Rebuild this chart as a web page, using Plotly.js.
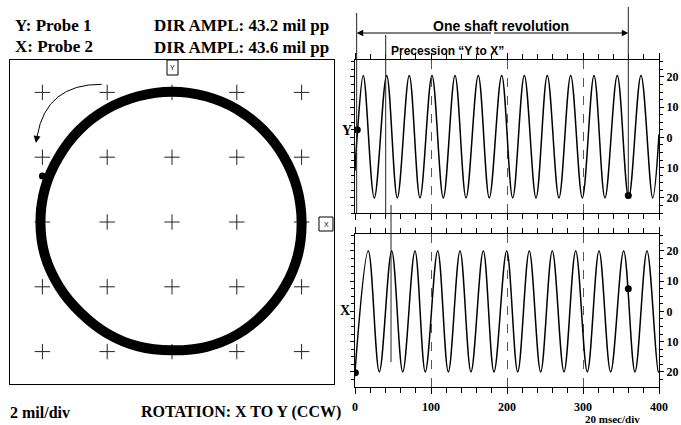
<!DOCTYPE html>
<html>
<head>
<meta charset="utf-8">
<script src="https://cdn.plot.ly/plotly-3.0.1.min.js"></script>
<style>html,body{margin:0;padding:0;background:#fff;}#chart{width:681px;height:425px;}</style>
</head>
<body>
<div id="chart"></div>
<script>
// ---------- DATA ----------
// Orbit (X probe horizontal, Y probe vertical), read around the ring
var orbitX = [20.0, 19.3, 17.3, 14.1, 10.0, 5.2, 0.0, -5.2, -10.1, -14.3, -17.5, -19.6, -20.3, -19.6, -17.4, -14.1, -10.0, -5.2, 0.0, 5.2, 10.0, 14.2, 17.4, 19.4, 20.0];
var orbitY = [0.0, 5.2, 10.0, 14.2, 17.4, 19.4, 20.1, 19.4, 17.4, 14.2, 10.0, 5.2, 0.0, -5.2, -10.0, -14.0, -17.2, -19.2, -19.8, -19.3, -17.4, -14.1, -10.0, -5.2, 0.0];
var orbitDotX = [-20.4, -20.0];
var orbitDotY = [2.0, 7.1];
var gridVals = [-20, -10, 0, 10, 20];

// Y probe time waveform (msec, mil)
var yTime = [0, 3, 10.9, 25.4, 41.7, 55.7, 71.4, 85.5, 101.3, 116.2, 131.6, 146.1, 162.2, 176.7, 193.0, 207.5, 222.8, 238.2, 253.0, 268.4, 283.8, 299.1, 314.5, 328.9, 345.1, 360.1, 376.3, 391.7, 400];
var yVals = [-11, 1, 20.5, -20, 20.5, -20, 20.5, -20, 20.5, -20, 20.5, -20, 20.5, -20, 20.5, -20, 20.5, -20, 20.5, -20, 20.5, -20, 20.5, -20, 20.5, -20, 20.5, -20, 1];
var yDotT = [3, 359.6];
var yDotV = [2.5, -19.2];

// X probe time waveform (msec, mil)
var xTime = [0, 17.5, 32.0, 48.3, 62.8, 78.9, 92.5, 108.8, 122.8, 138.2, 152.6, 168.8, 182.9, 199.6, 214.1, 229.3, 244.3, 259.6, 275.0, 290.4, 305.7, 321.1, 336.4, 353.5, 368.4, 384.2, 399.1, 400];
var xVals = [-20, 20, -20, 20, -20, 20, -20, 20, -20, 20, -20, 20, -20, 20, -20, 20, -20, 20, -20, 20, -20, 20, -20, 20, -20, 20, -20, -19.8];
var xDotT = [0.5, 359.6];
var xDotV = [-20.3, 7.5];

var ampTickVals = [-20, -10, 0, 10, 20];
var ampTickText = ['20', '10', '0', '10', '20'];
var timeTickVals = [0, 100, 200, 300, 400];
var timeTickText = ['0', '100', '200', '300', '400'];

// markers of revolution / precession (msec)
var revStart = 2.2, revEnd = 359.6, precY = 40.4, precX = 47.4;

// ---------- BUILD ----------
var W = 681, H = 425;
function fx(p){ return p / W; }
function fy(p){ return 1 - p / H; }

var crossX = [], crossY = [];
gridVals.forEach(function(a){ gridVals.forEach(function(b){ crossX.push(a); crossY.push(b); }); });

var serifB = {family: 'Liberation Serif, Times New Roman, serif', color: '#000', weight: 'bold'};
var sansB = {family: 'Liberation Sans, Arial, sans-serif', color: '#000', weight: 'bold'};
function f(base, size){ var o = {}; for (var k in base) o[k] = base[k]; o.size = size; return o; }

var traces = [
  {x: crossX, y: crossY, xaxis: 'x', yaxis: 'y', mode: 'markers', hoverinfo: 'skip',
   marker: {symbol: 'cross-thin', size: 11, color: '#222', line: {width: 1, color: '#222'}}},
  {x: orbitX, y: orbitY, xaxis: 'x', yaxis: 'y', mode: 'lines',
   line: {color: '#000', width: 10, shape: 'spline', smoothing: 1}},
  {x: orbitDotX, y: orbitDotY, xaxis: 'x', yaxis: 'y', mode: 'markers',
   marker: {color: '#000', size: 7}},
  {x: yTime, y: yVals, xaxis: 'x2', yaxis: 'y2', mode: 'lines',
   line: {color: '#000', width: 1.5, shape: 'spline', smoothing: 1}},
  {x: yDotT, y: yDotV, xaxis: 'x2', yaxis: 'y2', mode: 'markers', marker: {color: '#000', size: 7}},
  {x: xTime, y: xVals, xaxis: 'x3', yaxis: 'y3', mode: 'lines',
   line: {color: '#000', width: 1.5, shape: 'spline', smoothing: 1}},
  {x: xDotT, y: xDotV, xaxis: 'x3', yaxis: 'y3', mode: 'markers', marker: {color: '#000', size: 7}}
];

var orbitAxis = {range: [-25, 25], showgrid: false, zeroline: false, showticklabels: false, ticks: '',
  showline: true, mirror: true, linecolor: '#000', linewidth: 1, fixedrange: true};
function timeAxis(domainY, showLabels){
  return {domain: [fx(355), fx(659)], range: [0, 400], anchor: domainY, zeroline: false,
    showgrid: true, dtick: 100, tick0: 0, griddash: 'dash', gridcolor: '#555', gridwidth: 1,
    tickvals: timeTickVals, ticktext: timeTickText, showticklabels: showLabels,
    tickfont: f(serifB, 12), ticks: 'outside', ticklen: 6, tickcolor: '#000', ticklabelstandoff: 3,
    minor: {dtick: 20, tick0: 0, ticks: 'outside', ticklen: 5, tickcolor: '#000', showgrid: false},
    showline: true, mirror: 'allticks', linecolor: '#000', linewidth: 1};
}
function ampAxis(anchor, lo, hi, range){
  return {domain: [fy(lo), fy(hi)], range: range, anchor: anchor, side: 'right', zeroline: false,
    showgrid: false, tickvals: ampTickVals, ticktext: ampTickText, tickfont: f(serifB, 12),
    ticks: 'outside', ticklen: 4, tickcolor: '#000',
    minor: {dtick: 2.5, ticks: 'outside', ticklen: 3, tickcolor: '#000', showgrid: false},
    showline: true, mirror: 'allticks', linecolor: '#000', linewidth: 1};
}

var xo = JSON.parse(JSON.stringify(orbitAxis)); xo.domain = [fx(10), fx(334)]; xo.anchor = 'y';
var yo = JSON.parse(JSON.stringify(orbitAxis)); yo.domain = [fy(384), fy(60)]; yo.anchor = 'x';

var shapes = [
  // small probe boxes on orbit frame
  {type: 'rect', xref: 'paper', yref: 'paper', x0: fx(167), x1: fx(178), y0: fy(75), y1: fy(60), line: {color: '#000', width: 1}},
  {type: 'rect', xref: 'paper', yref: 'paper', x0: fx(319), x1: fx(333), y0: fy(231), y1: fy(217), line: {color: '#000', width: 1}},
  // rotation arrow arc
  {type: 'path', xref: 'x', yref: 'y', path: 'M -10.85,21.25 Q -19.4,21.3 -20.8,13.3', line: {color: '#000', width: 1}},
  // revolution and precession markers
  {type: 'line', xref: 'x2', yref: 'paper', x0: revStart, x1: revStart, y0: fy(13), y1: fy(213), line: {color: '#222', width: 1}},
  {type: 'line', xref: 'x2', yref: 'paper', x0: revEnd, x1: revEnd, y0: fy(7), y1: fy(196), line: {color: '#222', width: 1}},
  {type: 'line', xref: 'x2', yref: 'paper', x0: precY, x1: precY, y0: fy(35), y1: fy(217), line: {color: '#222', width: 1}},
  {type: 'line', xref: 'x3', yref: 'paper', x0: precX, x1: precX, y0: fy(205), y1: fy(362), line: {color: '#222', width: 1}}
];

var mid = (revStart + revEnd) / 2;
var annotations = [
  {xref: 'paper', yref: 'paper', x: fx(12.7), y: fy(25.7), xanchor: 'left', yanchor: 'middle', text: 'Y: Probe 1', showarrow: false, font: f(serifB, 17)},
  {xref: 'paper', yref: 'paper', x: fx(12.7), y: fy(46.5), xanchor: 'left', yanchor: 'middle', text: 'X: Probe 2', showarrow: false, font: f(serifB, 17)},
  {xref: 'paper', yref: 'paper', x: fx(152), y: fy(26), xanchor: 'left', yanchor: 'middle', text: 'DIR AMPL: 43.2 mil pp', showarrow: false, font: f(serifB, 17)},
  {xref: 'paper', yref: 'paper', x: fx(152), y: fy(47), xanchor: 'left', yanchor: 'middle', text: 'DIR AMPL: 43.6 mil pp', showarrow: false, font: f(serifB, 17)},
  {xref: 'paper', yref: 'paper', x: fx(8), y: fy(412), xanchor: 'left', yanchor: 'middle', text: '2 mil/div', showarrow: false, font: f(serifB, 16)},
  {xref: 'paper', yref: 'paper', x: fx(343), y: fy(412), xanchor: 'right', yanchor: 'middle', text: 'ROTATION: X TO Y (CCW)', showarrow: false, font: f(serifB, 16)},
  {xref: 'paper', yref: 'paper', x: fx(612), y: fy(419), xanchor: 'center', yanchor: 'middle', text: '20 msec/div', showarrow: false, font: f(serifB, 11)},
  {xref: 'paper', yref: 'paper', x: fx(347), y: fy(130), xanchor: 'center', yanchor: 'middle', text: 'Y', showarrow: false, font: f(serifB, 14)},
  {xref: 'paper', yref: 'paper', x: fx(345), y: fy(310), xanchor: 'center', yanchor: 'middle', text: 'X', showarrow: false, font: f(serifB, 14)},
  {xref: 'paper', yref: 'paper', x: fx(172.5), y: fy(67.5), xanchor: 'center', yanchor: 'middle', text: 'Y', showarrow: false, font: {family: 'Liberation Sans, Arial', size: 7, color: '#000'}},
  {xref: 'paper', yref: 'paper', x: fx(326), y: fy(224), xanchor: 'center', yanchor: 'middle', text: 'X', showarrow: false, font: {family: 'Liberation Sans, Arial', size: 7, color: '#000'}},
  {xref: 'paper', yref: 'paper', x: fx(501), y: fy(26), xanchor: 'center', yanchor: 'middle', text: 'One shaft revolution', showarrow: false, font: f(sansB, 14)},
  {xref: 'paper', yref: 'paper', x: fx(389), y: fy(51), xanchor: 'left', yanchor: 'middle', text: 'Precession \u201cY to X\u201d', showarrow: false, font: f(sansB, 12)},
  // double arrow for one revolution
  {xref: 'x2', yref: 'paper', x: revStart, y: fy(33), axref: 'x2', ax: mid, ayref: 'pixel', ay: 0, text: '', showarrow: true, arrowhead: 2, arrowsize: 1.3, arrowwidth: 1, arrowcolor: '#000'},
  {xref: 'x2', yref: 'paper', x: revEnd, y: fy(33), axref: 'x2', ax: mid, ayref: 'pixel', ay: 0, text: '', showarrow: true, arrowhead: 2, arrowsize: 1.3, arrowwidth: 1, arrowcolor: '#000'},
  // rotation arrow head
  {xref: 'x', yref: 'y', x: -21.0, y: 12.2, ax: 1.5, ay: -9, text: '', showarrow: true, arrowhead: 2, arrowsize: 1.4, arrowwidth: 1, arrowcolor: '#000'}
];

var layout = {
  width: W, height: H, margin: {l: 0, r: 0, t: 0, b: 0}, paper_bgcolor: '#fff', plot_bgcolor: 'rgba(0,0,0,0)',
  showlegend: false,
  xaxis: xo, yaxis: yo,
  xaxis2: timeAxis('y2', false),
  yaxis2: ampAxis('x2', 213, 60, [-25, 25.6]),
  xaxis3: timeAxis('y3', true),
  yaxis3: ampAxis('x3', 386.7, 234, [-24.9, 25.6]),
  shapes: shapes, annotations: annotations
};

Plotly.newPlot('chart', traces, layout, {staticPlot: true, displayModeBar: false});
</script>
</body>
</html>
